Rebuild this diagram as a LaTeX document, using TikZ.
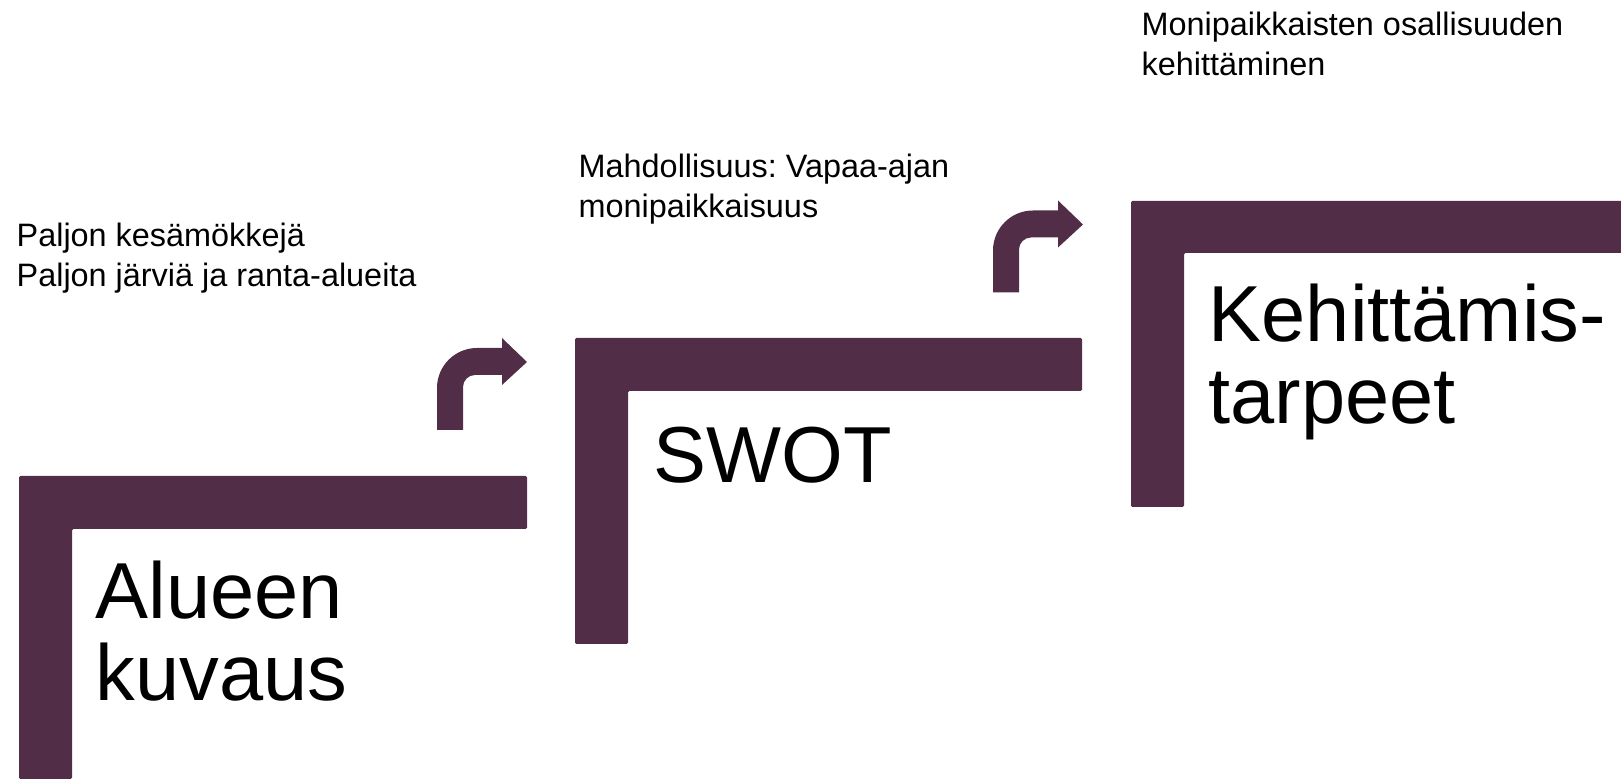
\documentclass[tikz,border=0pt]{standalone}
\usepackage{fontspec}
\setmainfont{Liberation Sans}
\usepackage{tikz}
\usetikzlibrary{positioning}
\frenchspacing

\definecolor{luumu}{RGB}{81,45,71}
\tikzset{
  porras/.style={fill=luumu, draw=none, rounded corners=0.4pt},
  kaari/.style={fill=luumu, draw=none},
  otsikko/.style={inner sep=0pt, anchor=base west, align=left, font=\fontsize{22.6}{23.4}\selectfont},
  huomio/.style={inner sep=0pt, anchor=base west, align=left, font=\fontsize{9.22}{11.4}\selectfont}
}

\begin{document}
\begin{tikzpicture}
  \useasboundingbox (0,0) rectangle (16.21,7.79) ;
  \draw[porras] (0.19,0.0) -- (0.19,3.03) -- (5.27,3.03) -- (5.27,2.50) -- (0.72,2.50) -- (0.72,0.0) -- cycle ;
  \draw[porras] (5.75,1.35) -- (5.75,4.41) -- (10.82,4.41) -- (10.82,3.88) -- (6.28,3.88) -- (6.28,1.35) -- cycle ;
  \draw[porras] (11.31,2.72) -- (11.31,5.78) -- (16.30,5.78) -- (16.30,5.26) -- (11.84,5.26) -- (11.84,2.72) -- cycle ;
  \fill[kaari] (4.37,3.49) -- (4.37,3.91) arc (180:90:0.40) -- (5.02,4.31) -- (5.02,4.41) -- (5.27,4.17)
    -- (5.02,3.94) -- (5.02,4.04) -- (4.75,4.04) arc (90:180:0.12) -- (4.63,3.49) -- cycle ;
  \fill[kaari] (9.93,4.865) -- (9.93,5.285) arc (180:90:0.40) -- (10.58,5.685) -- (10.58,5.785) -- (10.83,5.545)
    -- (10.58,5.315) -- (10.58,5.415) -- (10.31,5.415) arc (90:180:0.12) -- (10.19,4.865) -- cycle ;
  \node[otsikko] (alue) at (0.95,0.78) {Alueen\\kuvaus} ;
  \node[otsikko] (swot) at (6.53,2.96) {SWOT} ;
  \node[otsikko] (tarve) at (12.08,3.55) {Kehittämis-\\tarpeet} ;
  \node[huomio] (alueteksti) at (0.16,4.92) {Paljon kesämökkejä\\Paljon järviä ja ranta-alueita} ;
  \node[huomio] (swotteksti) at (5.78,5.61) {Mahdollisuus: Vapaa-ajan\\monipaikkaisuus} ;
  \node[huomio] (tarveteksti) at (11.41,7.03) {Monipaikkaisten osallisuuden\\kehittäminen} ;
\end{tikzpicture}
\end{document}
